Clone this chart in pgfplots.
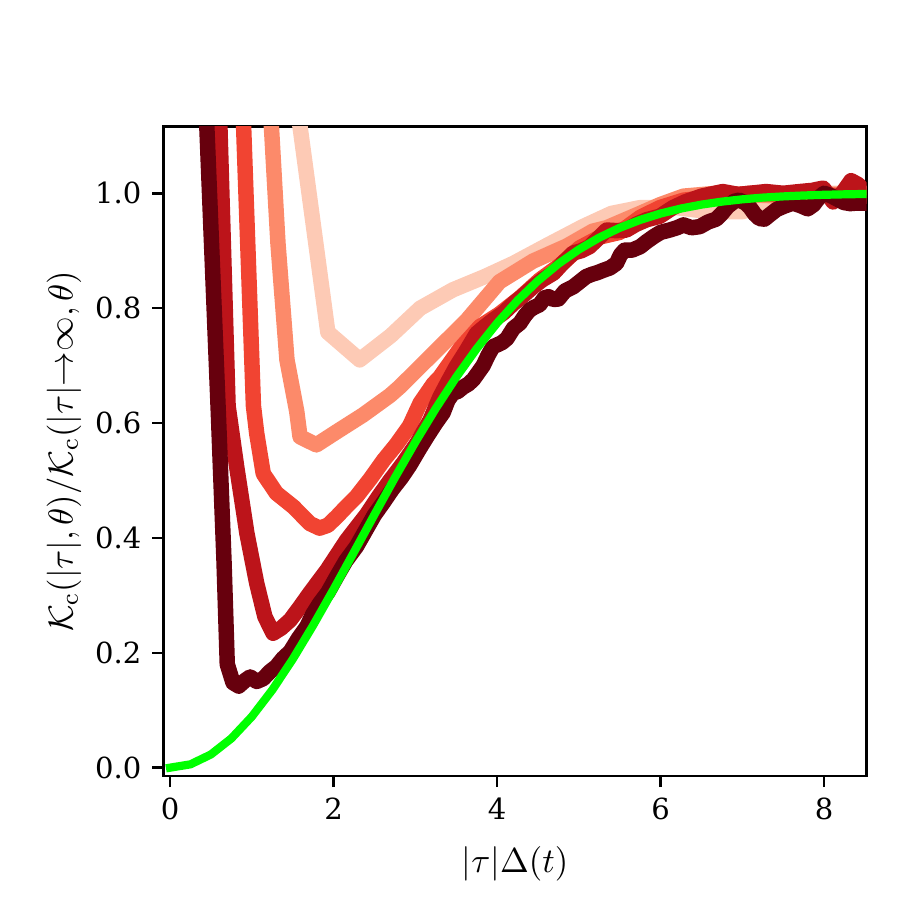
\documentclass[border=0pt]{standalone}
\usepackage{fontspec}
\usepackage{pgfplots}
\pgfplotsset{compat=1.18}
\newfontfamily\tickfont{DejaVu Serif}
\definecolor{cA}{RGB}{253,202,181}
\definecolor{cB}{RGB}{252,138,106}
\definecolor{cC}{RGB}{241,68,50}
\definecolor{cD}{RGB}{188,20,26}
\definecolor{cE}{RGB}{103,0,13}
\definecolor{lime}{RGB}{0,255,0}
\begin{document}
\begin{tikzpicture}
\useasboundingbox (-51.77pt,-43.38pt) rectangle (237.31pt,245.71pt);
\begin{axis}[
  at={(0,0)}, anchor=south west,
  scale only axis, width=222.65pt, height=205.6pt,
  xmin=-0.08, xmax=8.52, ymin=-0.0145, ymax=1.116,
  xtick={0,2,4,6,8}, ytick={0,0.2,0.4,0.6,0.8,1.0},
  /pgf/number format/assume math mode=true,
  ticklabel style={font=\tickfont\fontsize{9.2}{11}\selectfont},
  yticklabel style={/pgf/number format/.cd, fixed, fixed zerofill, precision=1},
  tick align=outside, xtick pos=bottom, ytick pos=left,
  major tick length=3.5pt,
  every tick/.style={black, line width=0.8pt},
  axis line style={line width=0.8pt},
  label style={font=\fontsize{11.1}{13}\selectfont},
  xlabel shift=1.6pt, ylabel shift=-2.5pt,
  xlabel={$|\tau|\Delta(t)$},
  ylabel={$\mathcal{K}_{\mathrm{c}}(|\tau|,\theta)/\mathcal{K}_{\mathrm{c}}(|\tau|{\to}\infty,\theta)$},
  every axis plot/.append style={line cap=rect, line join=round},
]
\addplot[cA, line width=4.9pt] coordinates {
(1.507,1.2)(1.59,1.116)(1.93,0.758)(2.32,0.710)(2.70,0.752)(3.06,0.800)(3.46,0.832)(3.85,0.855)(4.20,0.878)(4.62,0.910)(5.05,0.942)(5.40,0.965)(5.75,0.975)(6.2,0.975)(6.6,0.968)(7.0,0.968)(7.4,0.985)(7.8,1.0)(8.2,1.0)(8.5,1.0)
};
\addplot[cB, line width=4.9pt] coordinates {
(1.207,1.2)(1.24,1.116)(1.32,0.913)(1.43,0.71)(1.55,0.62)(1.59,0.576)(1.79,0.562)(2.04,0.585)(2.36,0.614)(2.69,0.648)(2.81,0.663)(3.22,0.721)(3.63,0.779)(4.03,0.846)(4.44,0.882)(4.85,0.908)(5.17,0.934)(5.34,0.940)(5.75,0.965)(5.99,0.980)(6.28,0.995)(6.68,1.0)(7.0,0.998)(7.5,0.995)(8.0,0.998)(8.5,0.998)
};
\addplot[cC, line width=4.9pt] coordinates {
(0.879,1.2)(0.90,1.116)(1.02,0.63)(1.06,0.582)(1.14,0.512)(1.30,0.478)(1.51,0.454)(1.71,0.425)(1.83,0.417)(1.93,0.422)(2.04,0.437)(2.16,0.455)(2.28,0.472)(2.45,0.503)(2.61,0.535)(2.77,0.563)(2.93,0.595)(3.06,0.635)(3.22,0.668)(3.30,0.680)(3.55,0.730)(3.79,0.768)(4.03,0.790)(4.28,0.818)(4.52,0.849)(4.77,0.875)(5.01,0.905)(5.26,0.924)(5.50,0.932)(5.75,0.958)(5.99,0.975)(6.28,0.988)(6.68,0.994)(7.09,1.0)(7.5,0.998)(7.9,1.0)(8.2,0.995)(8.5,0.995)
};
\addplot[cD, line width=4.9pt] coordinates {
(0.593,1.2)(0.61,1.116)(0.71,0.63)(0.815,0.524)(0.94,0.408)(1.06,0.321)(1.16,0.263)(1.26,0.234)(1.36,0.243)(1.47,0.257)(1.59,0.280)(1.71,0.304)(1.82,0.325)(1.92,0.344)(2.04,0.370)(2.16,0.396)(2.28,0.418)(2.40,0.440)(2.55,0.472)(2.69,0.500)(2.85,0.530)(3.02,0.565)(3.18,0.605)(3.30,0.645)(3.40,0.672)(3.50,0.698)(3.62,0.725)(3.75,0.756)(3.85,0.768)(3.95,0.779)(4.08,0.792)(4.20,0.808)(4.32,0.822)(4.44,0.837)(4.56,0.850)(4.69,0.861)(4.80,0.878)(4.93,0.896)(5.03,0.900)(5.13,0.907)(5.24,0.922)(5.34,0.936)(5.46,0.935)(5.58,0.936)(5.70,0.946)(5.83,0.954)(5.99,0.960)(6.15,0.975)(6.30,0.985)(6.50,0.995)(6.76,1.003)(6.95,0.998)(7.09,1.000)(7.29,1.003)(7.50,1.000)(7.70,1.003)(7.85,1.005)(7.99,1.009)(8.11,0.985)(8.22,1.000)(8.33,1.022)(8.42,1.015)(8.50,1.000)
};
\addplot[cE, line width=4.9pt] coordinates {
(0.426,1.2)(0.45,1.116)(0.59,0.62)(0.66,0.36)(0.70,0.18)(0.77,0.148)(0.84,0.142)(0.92,0.152)(0.98,0.158)(1.06,0.150)(1.14,0.155)(1.22,0.167)(1.30,0.176)(1.38,0.190)(1.47,0.202)(1.57,0.225)(1.67,0.245)(1.75,0.268)(1.83,0.286)(1.93,0.305)(2.04,0.333)(2.15,0.360)(2.28,0.385)(2.40,0.415)(2.50,0.440)(2.61,0.462)(2.72,0.485)(2.83,0.505)(2.93,0.526)(3.05,0.555)(3.15,0.578)(3.25,0.60)(3.34,0.618)(3.40,0.640)(3.46,0.652)(3.52,0.655)(3.58,0.662)(3.65,0.668)(3.71,0.676)(3.77,0.688)(3.83,0.700)(3.89,0.718)(3.95,0.733)(4.00,0.736)(4.06,0.740)(4.12,0.747)(4.20,0.765)(4.28,0.774)(4.34,0.787)(4.40,0.797)(4.46,0.802)(4.52,0.806)(4.58,0.818)(4.63,0.820)(4.69,0.815)(4.75,0.816)(4.83,0.830)(4.93,0.837)(5.01,0.846)(5.09,0.855)(5.16,0.859)(5.23,0.862)(5.30,0.866)(5.38,0.870)(5.46,0.878)(5.51,0.893)(5.56,0.901)(5.65,0.901)(5.75,0.907)(5.83,0.916)(5.92,0.925)(6.00,0.932)(6.11,0.936)(6.20,0.940)(6.28,0.945)(6.38,0.940)(6.48,0.942)(6.58,0.950)(6.68,0.955)(6.75,0.965)(6.82,0.977)(6.90,0.986)(6.96,0.988)(7.03,0.984)(7.09,0.976)(7.15,0.964)(7.21,0.956)(7.27,0.955)(7.33,0.962)(7.42,0.972)(7.52,0.978)(7.62,0.983)(7.72,0.978)(7.80,0.973)(7.87,0.980)(7.94,0.993)(8.00,1.000)(8.08,0.996)(8.16,0.990)(8.24,0.984)(8.32,0.982)(8.40,0.983)(8.50,0.983)
};
\addplot[lime, line width=2.6pt] coordinates {
(0,0)(0.25,0.0058)(0.5,0.0230)(0.75,0.0509)(1.0,0.0888)(1.25,0.1352)(1.5,0.1887)(1.75,0.2477)(2.0,0.3105)(2.25,0.3754)(2.5,0.4406)(2.75,0.5049)(3.0,0.5668)(3.25,0.6254)(3.5,0.6798)(3.75,0.7294)(4.0,0.7740)(4.25,0.8134)(4.5,0.8477)(4.75,0.8772)(5.0,0.9021)(5.25,0.9229)(5.5,0.9399)(5.75,0.9537)(6.0,0.9648)(6.25,0.9735)(6.5,0.9803)(6.75,0.9855)(7.0,0.9895)(7.25,0.9925)(7.5,0.9946)(7.75,0.9962)(8.0,0.9974)(8.25,0.9982)(8.5,0.9988)
};
\end{axis}
\end{tikzpicture}
\end{document}
